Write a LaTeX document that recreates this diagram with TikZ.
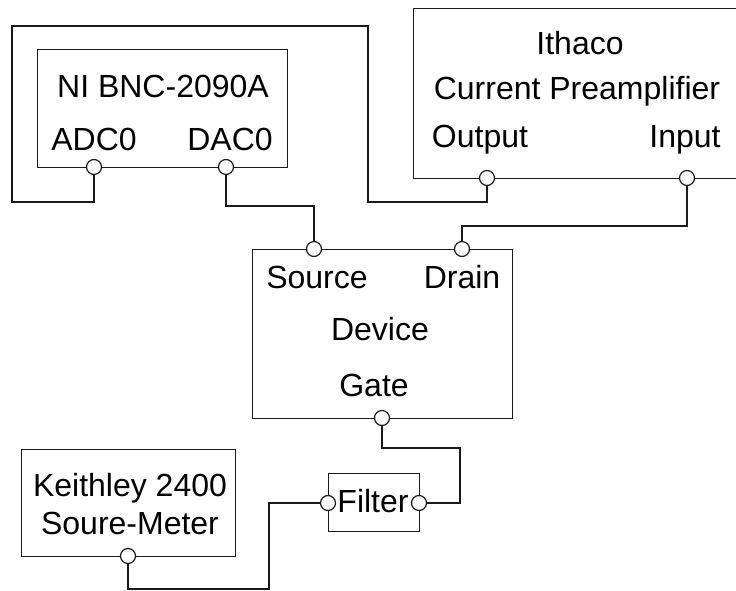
\documentclass[tikz,border=0pt]{standalone}
\usepackage{fontspec}
\setmainfont{Liberation Sans}
\usepackage{tikz}
\definecolor{WireBlack}{HTML}{1A1A1A}

\tikzset{
  unit/.style={draw=WireBlack,line width=1.3pt,anchor=north west,inner sep=0pt},
  port/.style={circle,draw=WireBlack,fill=white,line width=1.2pt,inner sep=0pt,minimum size=15pt},
  wire/.style={draw=WireBlack,line width=1.3pt},
  lbl/.style={anchor=base,inner sep=0pt,font=\fontsize{32}{38}\selectfont}
}

\begin{document}
\begin{tikzpicture}[x=1pt,y=-1pt]
      \useasboundingbox (0,0) rectangle (736,591);
      % instruments
      \node[unit,minimum width=250pt,minimum height=118pt] (ni) at (37,49) {};
      \node[unit,minimum width=330pt,minimum height=170pt] (ithaco) at (413,8) {};
      \node[unit,minimum width=260pt,minimum height=169pt] (dev) at (252,249) {};
      \node[unit,minimum width=91pt,minimum height=58pt] (filter) at (328,473) {};
      \node[unit,minimum width=214pt,minimum height=107pt] (keith) at (21,449) {};
      % texts
      \node[lbl] (niname) at (163,98) {NI BNC-2090A};
      \node[lbl] (adclbl) at (94,150) {ADC0};
      \node[lbl] (daclbl) at (230,150) {DAC0};
      \node[lbl] (ithname) at (580,55) {Ithaco};
      \node[lbl] (ithtype) at (577,100) {Current Preamplifier};
      \node[lbl] (outlbl) at (480,147) {Output};
      \node[lbl] (inlbl) at (685,147) {Input};
      \node[lbl] (srclbl) at (317,288) {Source};
      \node[lbl] (drnlbl) at (462,288) {Drain};
      \node[lbl] (devname) at (380,340) {Device};
      \node[lbl] (gatelbl) at (374,396) {Gate};
      \node[lbl] (filname) at (373,512) {Filter};
      \node[lbl] (keiname) at (130,496) {Keithley 2400};
      \node[lbl] (keitype) at (130,534) {Soure-Meter};
      % connectors
      \node[port] (adc) at (94,167) {};
      \node[port] (dac) at (226,167) {};
      \node[port] (out) at (487,178) {};
      \node[port] (in) at (687,178) {};
      \node[port] (src) at (314,249) {};
      \node[port] (drn) at (462,249) {};
      \node[port] (gate) at (382,418) {};
      \node[port] (fl) at (328,503) {};
      \node[port] (fr) at (419,503) {};
      \node[port] (kp) at (128,556) {};
      % cables
      \draw[wire] (adc) -- ++(0,35) -| (12,26) -| (368,202) -| (out);
      \draw[wire] (dac) -- ++(0,39) -| (src);
      \draw[wire] (in) -- ++(0,48) -| (drn);
      \draw[wire] (gate) |- (460,448) |- (fr);
      \draw[wire] (fl) -| (269,589) -| (kp);
\end{tikzpicture}
\end{document}
